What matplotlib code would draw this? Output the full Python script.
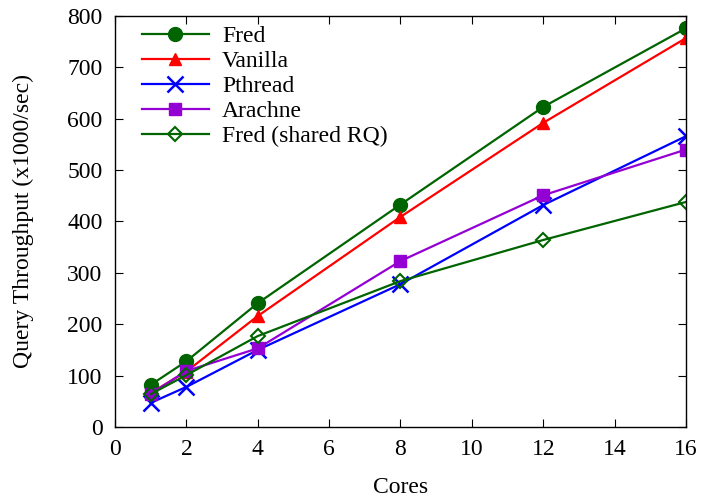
import numpy as np
import matplotlib
matplotlib.use('Agg')
import matplotlib.pyplot as plt

plt.rcParams['font.family'] = ['Liberation Serif', 'DejaVu Serif']
plt.rcParams['mathtext.fontset'] = 'stix'

cores = [1, 2, 4, 8, 12, 16]
fred = [82, 128, 241, 433, 623, 776]
vanilla = [66, 108, 216, 409, 592, 757]
pthread = [47, 78, 150, 278, 432, 566]
arachne = [65, 109, 153, 323, 451, 540]
fred_shared = [64, 101, 177, 284, 364, 438]

fig = plt.figure(figsize=(7.03, 4.99), dpi=100)
ax = fig.add_axes([0.1636, 0.1443, 0.8122, 0.8237])

ax.plot(cores, fred, c='#006400', lw=1.6, marker='o', ms=10, label='Fred')
ax.plot(cores, vanilla, c='#ff0000', lw=1.6, marker='^', ms=9, label='Vanilla')
ax.plot(cores, pthread, c='#0000ff', lw=1.6, marker='x', ms=11, mew=1.8, label='Pthread')
ax.plot(cores, arachne, c='#9400d3', lw=1.6, marker='s', ms=9, label='Arachne')
ax.plot(cores, fred_shared, c='#006400', lw=1.6, marker='D', ms=7.5, mfc='none',
        mew=1.5, label='Fred (shared RQ)')

ax.set_xlim(0, 16)
ax.set_ylim(0, 800)
ax.set_xticks(np.arange(0, 17, 2))
ax.set_yticks(np.arange(0, 801, 100))
ax.tick_params(direction='in', top=True, right=True, length=6, labelsize=17, pad=9)
for s in ax.spines.values():
    s.set_linewidth(1.0)
ax.set_xlabel('Cores', fontsize=17, labelpad=12)
ax.set_ylabel('Query Throughput (x1000/sec)', fontsize=17, labelpad=24)
ax.legend(loc='upper left', frameon=False, fontsize=17, handlelength=2.85,
          handletextpad=0.55, labelspacing=0.15, borderaxespad=0.0,
          bbox_to_anchor=(0.03, 1.0))

fig.savefig('out.png', dpi=100)
